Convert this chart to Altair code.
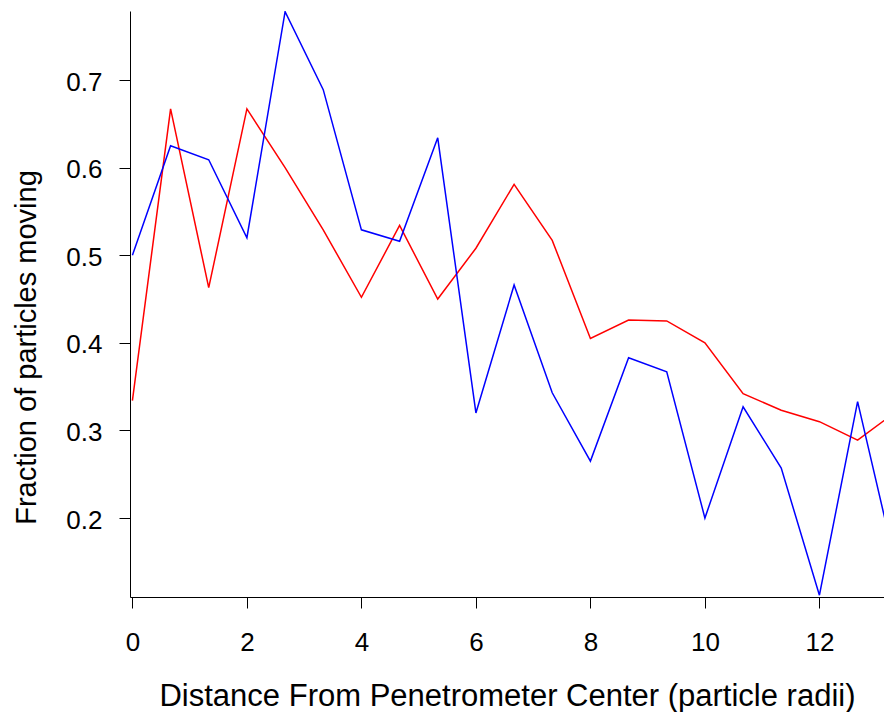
import altair as alt
import pandas as pd

x_vals = [0, 0.667, 1.333, 2, 2.667, 3.333, 4, 4.667, 5.333, 6,
          6.667, 7.333, 8, 8.667, 9.333, 10, 10.667, 11.333, 12, 12.667, 13.333]

blue = [0.500, 0.625, 0.609, 0.520, 0.778, 0.689, 0.529, 0.516, 0.634, 0.320,
        0.466, 0.343, 0.265, 0.383, 0.367, 0.200, 0.327, 0.257, 0.112, 0.333, 0.146]
red = [0.334, 0.667, 0.463, 0.667, 0.600, 0.529, 0.452, 0.534, 0.450, 0.508,
       0.581, 0.517, 0.405, 0.426, 0.425, 0.400, 0.342, 0.323, 0.310, 0.289, 0.321]

x_ticks = [0, 2, 4, 6, 8, 10, 12]
y_ticks = [0.2, 0.3, 0.4, 0.5, 0.6, 0.7]

rows = []
for xv, b, r in zip(x_vals, blue, red):
    rows.append({"x": xv, "value": r, "series": "red"})
    rows.append({"x": xv, "value": b, "series": "blue"})
df = pd.DataFrame(rows)

FONT = "Liberation Sans"

chart = alt.Chart(df).mark_line(strokeWidth=1.5, clip=True).encode(
    x=alt.X("x:Q",
            scale=alt.Scale(domain=[-0.042, 13.128], nice=False, zero=False),
            axis=alt.Axis(values=x_ticks, format="d",
                          title="Distance From Penetrometer Center (particle radii)",
                          titleFontSize=31, titleFontWeight="normal", titleFont=FONT,
                          titleColor="black", titleY=108, titleBaseline="alphabetic",
                          labelFontSize=26, labelFont=FONT, labelColor="black",
                          labelPadding=21, tickSize=11, tickColor="black",
                          domainColor="black", grid=False, labelFlush=False)),
    y=alt.Y("value:Q",
            scale=alt.Scale(domain=[0.1099, 0.7788], nice=False, zero=False),
            axis=alt.Axis(values=y_ticks, format=".1f",
                          title="Fraction of particles moving",
                          titleFontSize=29, titleFontWeight="normal", titleFont=FONT,
                          titleColor="black", titleAngle=-90, titleX=-95,
                          titleY=336, titleAlign="center", titleBaseline="alphabetic",
                          labelFontSize=26, labelFont=FONT, labelColor="black",
                          labelPadding=17, tickSize=11, tickColor="black",
                          domainColor="black", grid=False, labelFlush=False,
                          labelBaseline="middle", labelOffset=2)),
    color=alt.Color("series:N",
                    scale=alt.Scale(domain=["red", "blue"], range=["#ff0000", "#0000ff"]),
                    legend=None),
).properties(
    width=754, height=586,
    padding={"left": 122, "top": 3, "right": 0, "bottom": 115},
    autosize=alt.AutoSizeParams(type="none"),
).configure_view(stroke=None)

chart.save("out.html", embed_options={"renderer": "svg", "actions": False})
